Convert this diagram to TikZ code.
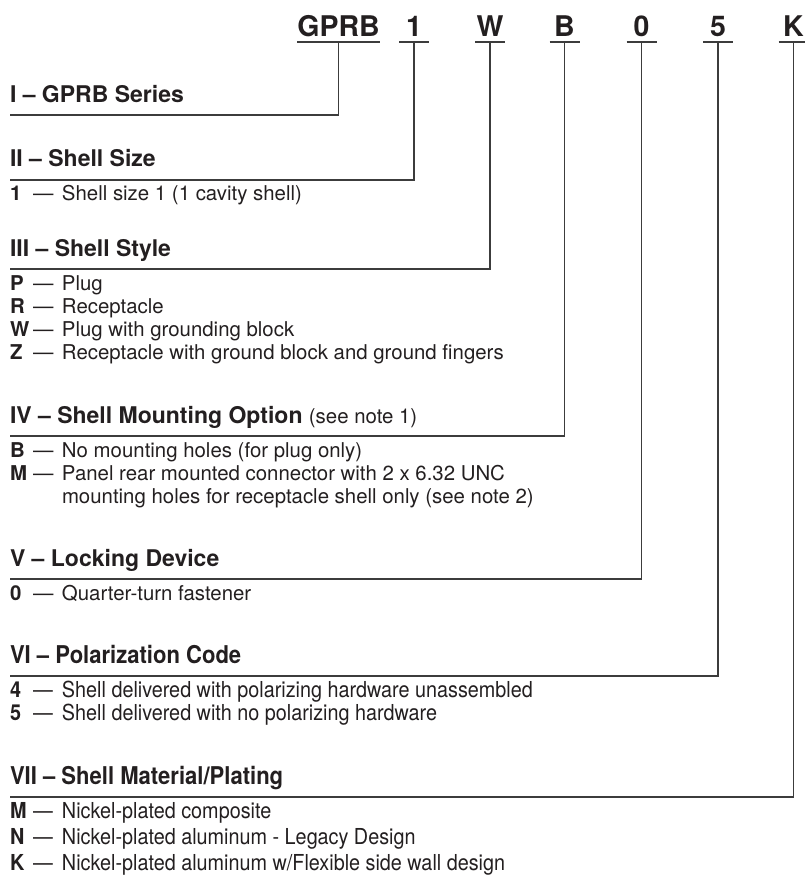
\documentclass[tikz,border=0pt]{standalone}
\usepackage{fontspec}
\setmainfont{TeX Gyre Heros}
\newfontfamily\condfont[FakeStretch=0.9]{TeX Gyre Heros}
\definecolor{ink}{RGB}{35,31,32}
\definecolor{rulec}{RGB}{60,60,60}
\newcommand{\kline}[2]{\makebox[23pt][l]{\bfseries #1}\makebox[29pt][l]{—}#2}
\begin{document}
\begin{tikzpicture}[x=1pt,y=-1pt,
  every node/.style={inner sep=0pt, outer sep=0pt, text=ink},
  hdr/.style={anchor=base, minimum width=30pt, font=\fontsize{28.5}{30}\selectfont\bfseries},
  ttl/.style={anchor=base west, font=\fontsize{23}{26}\selectfont\bfseries},
  ttlc/.style={anchor=base west, font=\condfont\fontsize{24.5}{26}\selectfont\bfseries},
  itm/.style={anchor=base west, font=\fontsize{20.4}{24}\selectfont},
  itmc/.style={anchor=base west, font=\condfont\fontsize{22}{24}\selectfont},
  lead/.style={draw=rulec, line width=1.2pt}
]
\useasboundingbox (0,0) rectangle (804,886);

% header code
\node[hdr] (h1) at (338.5,36) {GPRB};
\node[hdr] (h2) at (414,36) {1};
\node[hdr] (h3) at (490,36) {W};
\node[hdr] (h4) at (564.5,36) {B};
\node[hdr] (h5) at (641.5,36) {0};
\node[hdr] (h6) at (718,36) {5};
\node[hdr] (h7) at (793.5,36) {K};
\foreach \n in {h1,h2,h3,h4,h5,h6,h7}
  \draw[lead] ([yshift=-6pt]\n.base west) -- ([yshift=-6pt]\n.base east);

% line ends at the left
\coordinate (c1) at (10,115);
\coordinate (c2) at (10,180);
\coordinate (c3) at (10,269);
\coordinate (c4) at (10,436);
\coordinate (c5) at (10,579);
\coordinate (c6) at (10,676);
\coordinate (c7) at (10,797);

\draw[lead] ([yshift=-6pt]h1.base) |- (c1);
\draw[lead] ([yshift=-6pt]h2.base) |- (c2);
\draw[lead] ([yshift=-6pt]h3.base) |- (c3);
\draw[lead] ([yshift=-6pt]h4.base) |- (c4);
\draw[lead] ([yshift=-6pt]h5.base) |- (c5);
\draw[lead] ([yshift=-6pt]h6.base) |- (c6);
\draw[lead] ([yshift=-6pt]h7.base) |- (c7);

% I
\node[ttl] (t1) at (10,102) {I – GPRB Series};
% II
\node[ttl] (t2) at (10,166) {II – Shell Size};
\node[itm] (i21) at (10,200) {\kline{1}{Shell size 1 (1 cavity shell)}};
% III
\node[ttl] (t3) at (10,256) {III – Shell Style};
\node[itm] (i31) at (10,290) {\kline{P}{Plug}};
\node[itm] (i32) at (10,313) {\kline{R}{Receptacle}};
\node[itm] (i33) at (10,336) {\kline{W}{Plug with grounding block}};
\node[itm] (i34) at (10,359) {\kline{Z}{Receptacle with ground block and ground fingers}};
% IV
\node[ttl] (t4) at (10,423) {IV – Shell Mounting Option {\mdseries\fontsize{20.4}{24}\selectfont (see note 1)}};
\node[itm] (i41) at (10,457) {\kline{B}{No mounting holes (for plug only)}};
\node[itm] (i42) at (10,480) {\kline{M}{Panel rear mounted connector with 2 x 6.32 UNC}};
\node[itm] (i43) at (62,503) {mounting holes for receptacle shell only (see note 2)};
% V
\node[ttl] (t5) at (10,566) {V – Locking Device};
\node[itm] (i51) at (10,600) {\kline{0}{Quarter-turn fastener}};
% VI
\node[ttlc] (t6) at (10,663) {VI – Polarization Code};
\node[itmc] (i61) at (10,697) {\kline{4}{Shell delivered with polarizing hardware unassembled}};
\node[itmc] (i62) at (10,720) {\kline{5}{Shell delivered with no polarizing hardware}};
% VII
\node[ttlc] (t7) at (10,784) {VII – Shell Material/Plating};
\node[itmc] (i71) at (10,818) {\kline{M}{Nickel-plated composite}};
\node[itmc] (i72) at (10,844) {\kline{N}{Nickel-plated aluminum - Legacy Design}};
\node[itmc] (i73) at (10,870) {\kline{K}{Nickel-plated aluminum w/Flexible side wall design}};
\end{tikzpicture}
\end{document}
